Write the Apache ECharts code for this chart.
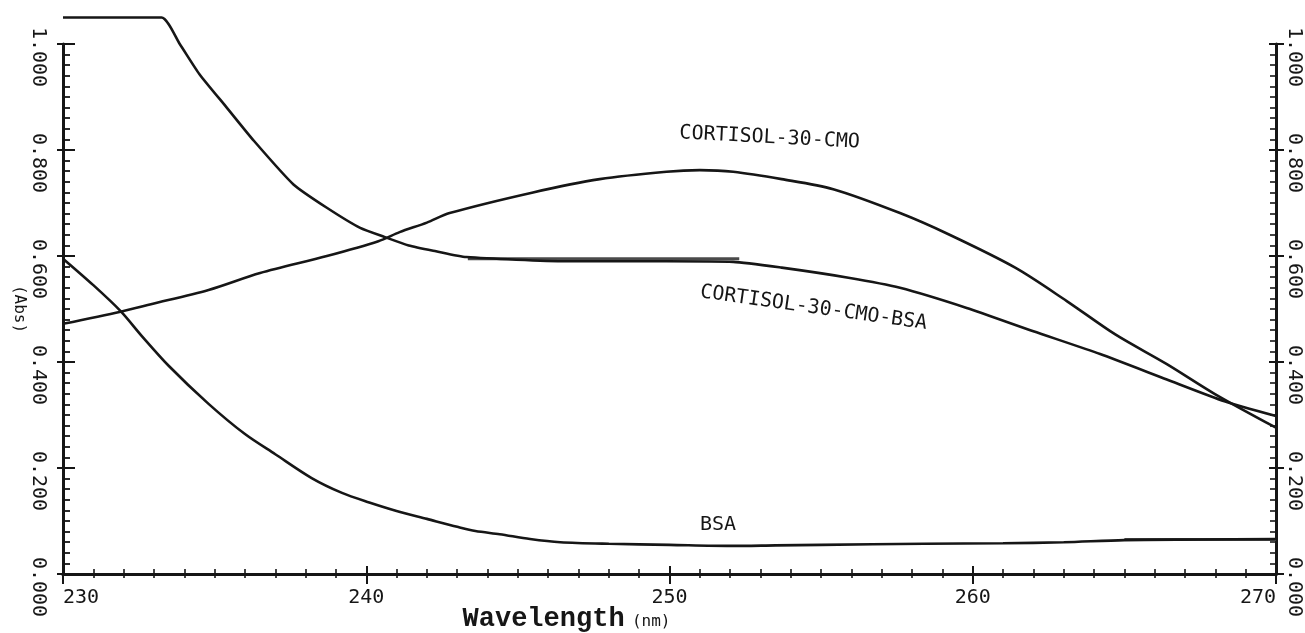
<!DOCTYPE html>
<html><head><meta charset="utf-8">
<script src="https://cdn.jsdelivr.net/npm/echarts@6/dist/echarts.min.js"></script>
<style>html,body{margin:0;padding:0;background:#fff}#c{width:1305px;height:633px}</style>
</head><body><div id="c"></div>
<script>
// Wavelength (nm) and absorbance
const wlBSA  = [230, 231, 231.9, 232.6, 233.5, 234.8, 236, 237, 238.2, 239.2, 240.1, 241, 242, 243, 243.6, 244.4, 245.4, 246.4, 248, 250, 252, 253.5, 255, 258.4, 261, 263, 265, 267.5, 270];
const absBSA = [0.595, 0.545, 0.496, 0.449, 0.392, 0.321, 0.264, 0.226, 0.181, 0.153, 0.135, 0.119, 0.104, 0.089, 0.081, 0.075, 0.066, 0.060, 0.057, 0.055, 0.053, 0.054, 0.055, 0.057, 0.058, 0.060, 0.064, 0.065, 0.066];

const wlCMO  = [230, 231.9, 232.9, 234.8, 236.5, 238.7, 240.4, 241.1, 242, 242.75, 245.5, 247.7, 249.9, 251, 252.1, 253.7, 255.4, 257.6, 259.2, 261.4, 263.1, 264.7, 266.4, 268, 270];
const absCMO = [0.472, 0.495, 0.509, 0.536, 0.568, 0.600, 0.628, 0.645, 0.663, 0.681, 0.720, 0.745, 0.759, 0.762, 0.759, 0.745, 0.726, 0.681, 0.641, 0.578, 0.515, 0.452, 0.396, 0.339, 0.276];

const wlConj  = [230, 233.25, 233.85, 234.5, 235.4, 236.3, 237.6, 238.7, 239.8, 240.6, 241.4, 242.3, 243.3, 246.6, 249.9, 252.1, 253.7, 255.9, 257.6, 259.8, 262, 264.2, 266.4, 268.3, 270];
const absConj = [1.05, 1.05, 1.0, 0.943, 0.88, 0.817, 0.735, 0.691, 0.653, 0.636, 0.620, 0.609, 0.598, 0.590, 0.590, 0.589, 0.578, 0.559, 0.540, 0.502, 0.458, 0.415, 0.367, 0.326, 0.298];

// straight pen strokes visible on the chart paper
const wlStroke1 = [243.35, 252.3];
const absStroke1 = [0.595, 0.595];
const wlStroke2 = [265, 270];
const absStroke2 = [0.065, 0.065];

// axis ticks
const xTicks = [230, 240, 250, 260, 270];
const yTicks = [0.0, 0.2, 0.4, 0.6, 0.8, 1.0];

// curve annotations
const noteText = ['CORTISOL-30-CMO', 'CORTISOL-30-CMO-BSA', 'BSA'];
const noteWl   = [253.3, 254.75, 251.6];
const noteAbs  = [0.823, 0.502, 0.093];

const pairs = (xs, ys) => xs.map((x, i) => [x, ys[i]]);
const INK = '#161616';
const MONO = '"DejaVu Sans Mono", monospace';

const chart = echarts.init(document.getElementById('c'), null, {renderer: 'canvas'});

const gridRect = {left: 63, right: 29, top: 44, height: 530, containLabel: false, outerBoundsMode: 'none'};
const xMin = xTicks[0], xMax = xTicks[xTicks.length - 1], xInt = xTicks[1] - xTicks[0];
const yMin = yTicks[0], yMax = yTicks[yTicks.length - 1], yInt = yTicks[1] - yTicks[0];

function baseX(extra) {
  return Object.assign({type: 'value', min: xMin, max: xMax, interval: xInt, splitLine: {show: false}}, extra);
}
function baseY(extra) {
  return Object.assign({type: 'value', min: yMin, max: yMax, interval: yInt, splitLine: {show: false}}, extra);
}
const axisLineStyle = {show: true, lineStyle: {color: INK, width: 3}};
const yLabel = {
  show: true, rotate: -90, fontFamily: MONO, fontSize: 20, color: INK,
  padding: [0, 0, 0, 26],
  formatter: v => v.toFixed(3)
};

function lineSeries(name, xs, ys, extra) {
  return Object.assign({
    name, type: 'line', data: pairs(xs, ys), xAxisIndex: 0, yAxisIndex: 0,
    showSymbol: false, symbol: 'none', smooth: 0.3, clip: false, silent: true,
    lineStyle: {color: INK, width: 2.6}, z: 3
  }, extra || {});
}
function note(i, rot) {
  return {
    coord: [noteWl[i], noteAbs[i]], symbol: 'circle', symbolSize: 0,
    label: {show: true, position: 'inside', formatter: noteText[i], rotate: rot,
            fontFamily: MONO, fontSize: 20, color: INK}
  };
}

chart.setOption({
  animation: false,
  backgroundColor: '#ffffff',
  grid: [Object.assign({}, gridRect), Object.assign({}, gridRect)],
  xAxis: [
    baseX({
      gridIndex: 0, position: 'bottom', axisLine: axisLineStyle,
      axisTick: {show: true, inside: true, length: 8, lineStyle: {color: INK, width: 2}},
      minorTick: {show: true, splitNumber: 10, length: 5, lineStyle: {color: INK, width: 1.6}},
      axisLabel: {show: true, margin: 14, fontFamily: MONO, fontSize: 20, color: INK,
                  alignMinLabel: 'left', alignMaxLabel: 'right'},
      name: '{a|Wavelength} {b|(nm)}', nameLocation: 'middle', nameGap: 32, nameMoveOverlap: false,
      nameTextStyle: {padding: [0, 206, 0, 0],
        rich: {
          a: {fontFamily: '"Liberation Mono", "Courier New", monospace', fontWeight: 'bold', fontSize: 27, color: INK},
          b: {fontFamily: MONO, fontSize: 16, color: INK, padding: [4, 0, 0, 4]}
        }}
    }),
    baseX({
      gridIndex: 0, position: 'top', axisLine: axisLineStyle,
      axisTick: {show: true, inside: true, length: 10, lineStyle: {color: INK, width: 2}},
      minorTick: {show: true, splitNumber: 10, length: 4, lineStyle: {color: INK, width: 1.6}},
      axisLabel: {show: false}
    }),
    baseX({
      gridIndex: 1, position: 'bottom', axisLine: {show: false},
      axisTick: {show: true, inside: false, length: 6, lineStyle: {color: INK, width: 2}},
      axisLabel: {show: false}
    })
  ],
  yAxis: [
    baseY({
      gridIndex: 0, position: 'left', axisLine: axisLineStyle,
      axisTick: {show: true, inside: true, length: 12, lineStyle: {color: INK, width: 2}},
      minorTick: {show: true, splitNumber: 10, length: 7, lineStyle: {color: INK, width: 1.8}},
      axisLabel: Object.assign({margin: 15}, yLabel),
      name: '(Abs)', nameLocation: 'middle', nameGap: 36, nameRotate: -90, nameMoveOverlap: false,
      nameTextStyle: {fontFamily: MONO, fontSize: 16, color: INK, padding: [0, 0, 0, 0]}
    }),
    baseY({
      gridIndex: 0, position: 'right', axisLine: axisLineStyle,
      axisTick: {show: true, inside: true, length: 7, lineStyle: {color: INK, width: 2}},
      minorTick: {show: true, splitNumber: 10, length: 6, lineStyle: {color: INK, width: 1.6}},
      axisLabel: Object.assign({margin: 8}, yLabel)
    }),
    baseY({
      gridIndex: 1, position: 'left', axisLine: {show: false},
      axisTick: {show: true, inside: false, length: 6, lineStyle: {color: INK, width: 2}},
      axisLabel: {show: false}
    }),
    baseY({
      gridIndex: 1, position: 'right', axisLine: {show: false},
      axisTick: {show: true, inside: false, length: 8, lineStyle: {color: INK, width: 2}},
      axisLabel: {show: false}
    })
  ],
  series: [
    lineSeries('BSA', wlBSA, absBSA, {markPoint: {silent: true, data: [note(2, 0)]}}),
    lineSeries('CORTISOL-30-CMO', wlCMO, absCMO, {markPoint: {silent: true, data: [note(0, -3)]}}),
    lineSeries('CORTISOL-30-CMO-BSA', wlConj, absConj, {smooth: 0.2, markPoint: {silent: true, data: [note(1, -8)]}}),
    lineSeries('pen stroke 1', wlStroke1, absStroke1, {smooth: false, lineStyle: {color: '#4a4a4a', width: 3}, z: 2}),
    lineSeries('pen stroke 2', wlStroke2, absStroke2, {smooth: false, lineStyle: {color: '#4a4a4a', width: 3}, z: 2}),
    {type: 'line', xAxisIndex: 2, yAxisIndex: 2, data: [], silent: true}
  ]
});
</script></body></html>
